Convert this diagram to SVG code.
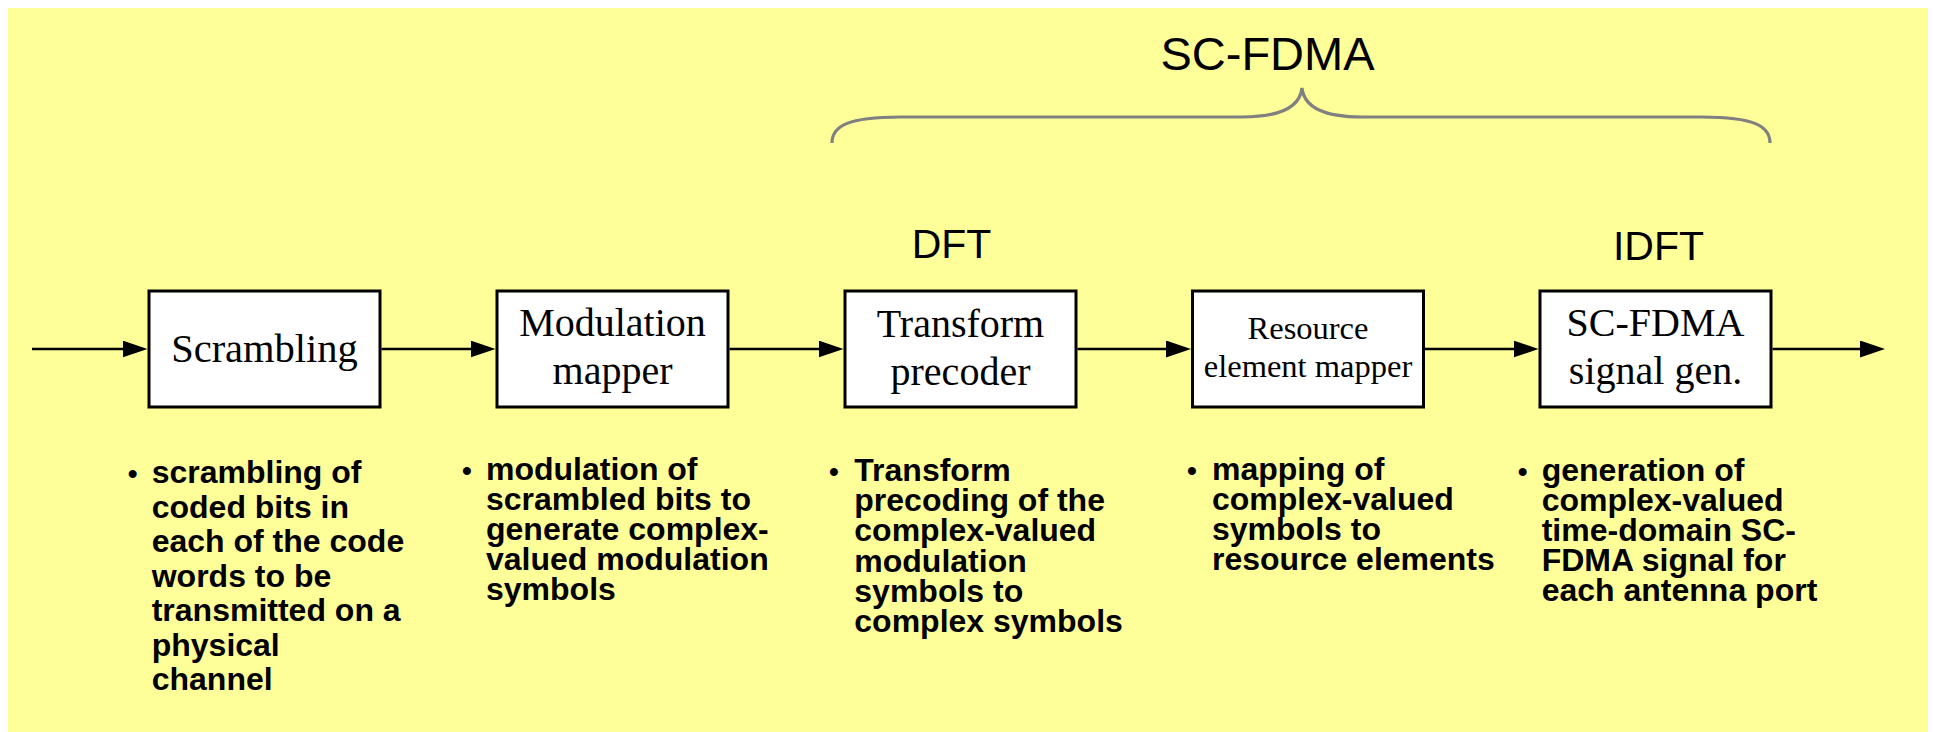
<svg xmlns="http://www.w3.org/2000/svg" width="1933" height="732" viewBox="0 0 1933 732">
  <style>
    .bg { fill: #FFFF99; }
    .box { fill: #FFFFFF; stroke: #000000; stroke-width: 3; }
    .lbl { font-family: "Liberation Serif", "Times New Roman", serif; fill: #000000; text-anchor: middle; }
    .head { font-family: "Liberation Sans", Arial, sans-serif; fill: #000000; text-anchor: middle; }
    .note { font-family: "Liberation Sans", Arial, sans-serif; font-weight: bold; font-size: 32px; fill: #000000; }
    .dot { font-family: "Liberation Sans", Arial, sans-serif; font-weight: bold; font-size: 28px; fill: #000000; text-anchor: middle; }
    .link { stroke: #000000; stroke-width: 2.5; fill: none; marker-end: url(#arrow); }
    .brace { stroke: #808080; stroke-width: 3.2; fill: none; }
  </style>
  <defs>
    <marker id="arrow" markerUnits="userSpaceOnUse" markerWidth="25" markerHeight="17" refX="15" refY="8.5" orient="auto">
      <path d="M0,0 L25,8.5 L0,17 Z" fill="#000000"/>
    </marker>
  </defs>

  <rect class="bg" x="8" y="8" width="1920" height="724"/>

  <!-- SC-FDMA span brace and headings -->
  <g id="scfdma-brace">
    <text class="head" x="1267.5" y="70" font-size="47">SC-FDMA</text>
    <path class="brace" d="M832,143 C832,126 848,117 900,117 L1242,117 C1282,117 1300,106 1302,88 C1304,106 1322,117 1362,117 L1702,117 C1754,117 1770,126 1770,143"/>
  </g>
  <g id="dft-label">
    <text class="head" x="951.5" y="258" font-size="41">DFT</text>
  </g>
  <g id="idft-label">
    <text class="head" x="1658.5" y="260" font-size="41">IDFT</text>
  </g>

  <!-- processing chain -->
  <g id="scrambling">
    <rect class="box" x="149" y="291" width="231" height="116"/>
    <text class="lbl" x="264.5" y="362" font-size="40.5">Scrambling</text>
  </g>
  <g id="modulation-mapper">
    <rect class="box" x="497" y="291" width="231" height="116"/>
    <text class="lbl" x="612.5" y="336" font-size="40">Modulation</text>
    <text class="lbl" x="612.5" y="384" font-size="40">mapper</text>
  </g>
  <g id="transform-precoder">
    <rect class="box" x="845" y="291" width="231" height="116"/>
    <text class="lbl" x="960.5" y="336.5" font-size="40">Transform</text>
    <text class="lbl" x="960.5" y="385" font-size="40">precoder</text>
  </g>
  <g id="resource-element-mapper">
    <rect class="box" x="1192.5" y="291" width="231" height="116"/>
    <text class="lbl" x="1308" y="339" font-size="32.5">Resource</text>
    <text class="lbl" x="1308" y="377" font-size="32.5">element mapper</text>
  </g>
  <g id="scfdma-signal-gen">
    <rect class="box" x="1540" y="291" width="231" height="116"/>
    <text class="lbl" x="1655.5" y="336" font-size="40">SC-FDMA</text>
    <text class="lbl" x="1655.5" y="383.5" font-size="40">signal gen.</text>
  </g>

  <!-- connectors -->
  <g id="connectors">
    <line class="link" x1="32" y1="349" x2="137.5" y2="349"/>
    <line class="link" x1="381.5" y1="349" x2="485.5" y2="349"/>
    <line class="link" x1="729.5" y1="349" x2="833.5" y2="349"/>
    <line class="link" x1="1077.5" y1="349" x2="1181" y2="349"/>
    <line class="link" x1="1425" y1="349" x2="1528.5" y2="349"/>
    <line class="link" x1="1772.5" y1="349" x2="1875" y2="349"/>
  </g>

  <!-- step descriptions -->
  <g id="note-scrambling">
    <text class="dot" x="132.7" y="483">•</text>
    <text class="note">
      <tspan x="151.7" y="483">scrambling of</tspan>
      <tspan x="151.7" y="517.5">coded bits in</tspan>
      <tspan x="151.7" y="552">each of the code</tspan>
      <tspan x="151.7" y="586.5">words to be</tspan>
      <tspan x="151.7" y="621">transmitted on a</tspan>
      <tspan x="151.7" y="655.5">physical</tspan>
      <tspan x="151.7" y="690">channel</tspan>
    </text>
  </g>
  <g id="note-modulation">
    <text class="dot" x="467" y="480">•</text>
    <text class="note">
      <tspan x="486" y="480">modulation of</tspan>
      <tspan x="486" y="510">scrambled bits to</tspan>
      <tspan x="486" y="540">generate complex-</tspan>
      <tspan x="486" y="570">valued modulation</tspan>
      <tspan x="486" y="600">symbols</tspan>
    </text>
  </g>
  <g id="note-precoding">
    <text class="dot" x="834" y="480.7">•</text>
    <text class="note">
      <tspan x="854.3" y="480.7">Transform</tspan>
      <tspan x="854.3" y="511">precoding of the</tspan>
      <tspan x="854.3" y="541.3">complex-valued</tspan>
      <tspan x="854.3" y="571.6">modulation</tspan>
      <tspan x="854.3" y="601.9">symbols to</tspan>
      <tspan x="854.3" y="632.2">complex symbols</tspan>
    </text>
  </g>
  <g id="note-mapping">
    <text class="dot" x="1192" y="480">•</text>
    <text class="note">
      <tspan x="1212" y="480">mapping of</tspan>
      <tspan x="1212" y="510">complex-valued</tspan>
      <tspan x="1212" y="540">symbols to</tspan>
      <tspan x="1212" y="570">resource elements</tspan>
    </text>
  </g>
  <g id="note-generation">
    <text class="dot" x="1522.7" y="480.7">•</text>
    <text class="note">
      <tspan x="1541.7" y="480.7">generation of</tspan>
      <tspan x="1541.7" y="510.7">complex-valued</tspan>
      <tspan x="1541.7" y="540.7">time-domain SC-</tspan>
      <tspan x="1541.7" y="570.7">FDMA signal for</tspan>
      <tspan x="1541.7" y="600.7">each antenna port</tspan>
    </text>
  </g>
</svg>
